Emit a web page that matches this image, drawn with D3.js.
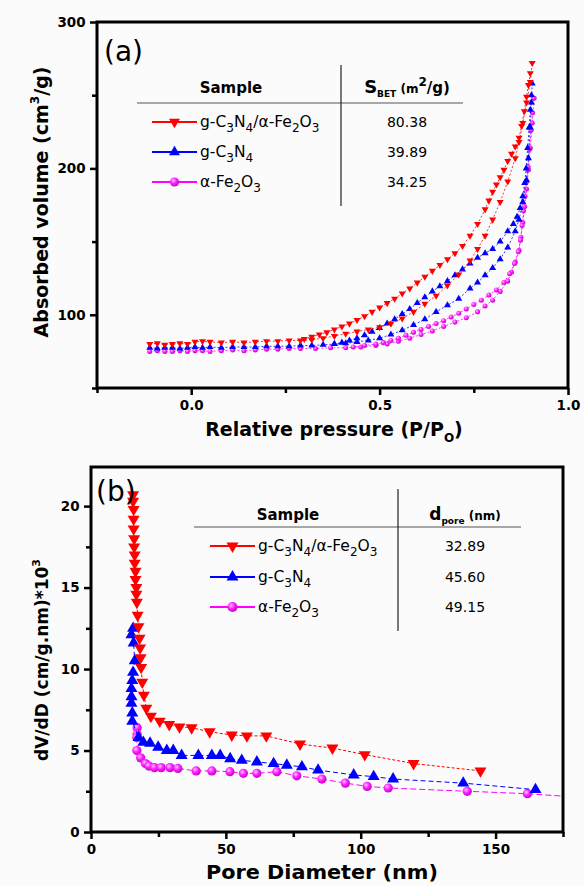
<!DOCTYPE html>
<html>
<head>
<meta charset="utf-8">
<script src="https://cdn.jsdelivr.net/npm/d3@7/dist/d3.min.js"></script>
<style>
  html, body { margin: 0; padding: 0; background: #fbfbfb; }
  svg { display: block; }
  text { font-family: "DejaVu Sans", sans-serif; fill: #000; }
</style>
</head>
<body>
<svg id="fig" width="584" height="886"></svg>
<script>
// ---------- (a) N2 adsorption / desorption isotherms: [P/P0, V] ----------
const redAds = [[-0.11,80],[-0.09,80.5],[-0.07,79.5],[-0.05,80],[-0.03,80.5],[-0.01,80],[0.01,81.5],[0.03,82],[0.05,81.5],[0.08,81],[0.11,81.5],[0.14,81],[0.17,81.5],[0.20,82],[0.23,82],[0.26,82.5],[0.29,82.5],[0.32,83],[0.35,84],[0.38,85.5],[0.41,87],[0.44,88.5],[0.47,90],[0.50,91.5],[0.53,94],[0.56,97.5],[0.59,102],[0.62,107.5],[0.65,113],[0.68,120],[0.71,127.5],[0.74,137],[0.76,145],[0.78,154],[0.80,165],[0.82,177],[0.84,191],[0.86,207],[0.87,218],[0.88,231],[0.89,245],[0.90,259],[0.905,272]];
const redDes = [[0.90,265],[0.895,257],[0.89,249],[0.884,239],[0.877,229],[0.87,221],[0.86,215],[0.85,210],[0.84,205],[0.83,199],[0.82,194],[0.81,189],[0.80,184],[0.79,178],[0.78,172],[0.76,162],[0.74,154],[0.72,147],[0.70,142],[0.68,138],[0.66,134],[0.64,130],[0.62,126],[0.60,122],[0.58,118],[0.56,114.5],[0.54,111],[0.52,108],[0.50,105],[0.48,102],[0.46,99],[0.44,96.5],[0.42,94],[0.40,92],[0.38,90],[0.36,88],[0.34,86.5],[0.32,85],[0.30,83.5]];
const blueAds = [[-0.11,77.5],[-0.09,77],[-0.07,77.5],[-0.05,77.5],[-0.03,77],[-0.01,77.5],[0.01,78],[0.03,77.5],[0.05,78],[0.08,77.5],[0.11,78],[0.14,78],[0.17,78],[0.20,78.5],[0.23,78.5],[0.26,78.5],[0.29,79],[0.32,79],[0.35,79.5],[0.38,80],[0.41,80.5],[0.44,81.5],[0.47,82.5],[0.50,84],[0.53,86.5],[0.56,89.5],[0.59,93],[0.62,97],[0.65,102],[0.68,106.5],[0.71,111],[0.74,118],[0.76,122],[0.78,127],[0.80,132],[0.82,138],[0.84,146],[0.86,157],[0.87,165],[0.88,177],[0.89,192],[0.895,207],[0.90,228],[0.903,245],[0.905,258]];
const blueDes = [[0.903,250],[0.90,240],[0.897,228],[0.893,214],[0.889,200],[0.885,190],[0.88,181],[0.873,173],[0.865,167],[0.855,162],[0.84,157],[0.82,150],[0.80,145],[0.78,142],[0.76,139],[0.74,135],[0.72,131],[0.70,127],[0.68,123],[0.66,119.5],[0.64,116],[0.62,112],[0.60,108],[0.58,104],[0.56,100.5],[0.54,97],[0.52,94],[0.50,91],[0.48,88.5],[0.46,86],[0.44,84],[0.42,82.5],[0.40,81],[0.38,80]];
const magAds = [[-0.11,75],[-0.09,75.5],[-0.07,75],[-0.05,75],[-0.03,75.5],[-0.01,75],[0.01,75.5],[0.03,75.5],[0.05,75],[0.08,75.5],[0.11,76],[0.14,75.5],[0.17,76],[0.20,76.5],[0.23,76.5],[0.26,77],[0.29,77],[0.33,77],[0.37,77.5],[0.41,77.5],[0.45,78],[0.49,79],[0.52,80],[0.55,82],[0.58,84],[0.61,86.5],[0.64,89],[0.67,92],[0.70,95],[0.73,98],[0.76,102],[0.78,106],[0.80,110],[0.82,116],[0.84,123],[0.85,129],[0.86,136],[0.87,144],[0.875,153],[0.88,163],[0.885,174],[0.89,186],[0.895,199],[0.90,214],[0.905,231],[0.91,248]];
const magDes = [[0.906,238],[0.902,226],[0.898,213],[0.894,201],[0.89,191],[0.886,181],[0.882,171],[0.878,161],[0.874,151],[0.868,143],[0.858,135],[0.845,128],[0.83,122],[0.81,117],[0.79,113.5],[0.77,110],[0.75,107],[0.73,104],[0.71,101],[0.69,98.5],[0.67,96],[0.65,94],[0.63,92],[0.61,90],[0.59,88],[0.57,86],[0.55,84],[0.53,82.5],[0.51,81],[0.49,80],[0.46,79],[0.43,78]];

// ---------- (b) pore size distribution: [D (nm), dV/dD x10^3] ----------
const redPore = [[15.6,20.7],[15.6,20.3],[15.8,19.8],[15.8,19.2],[15.8,18.6],[16.0,18.0],[16.0,17.5],[16.2,17.0],[16.2,16.5],[16.5,16.0],[16.5,15.5],[16.8,15.0],[16.8,14.6],[17.0,14.1],[17.3,13.3],[17.6,12.6],[18.0,11.9],[18.2,11.3],[18.4,10.7],[18.6,10.1],[19.0,9.2],[19.6,8.4],[20.5,7.6],[22.2,7.1],[25.5,6.8],[29.0,6.6],[32.8,6.45],[37.3,6.4],[44.0,6.15],[52.2,5.95],[57.8,5.9],[65.0,5.9],[77.5,5.4],[89.5,5.15],[101.5,4.75],[119.6,4.2],[144.4,3.75]];
const bluePore = [[15.6,12.5],[15.0,12.1],[15.8,11.6],[16.2,10.5],[15.6,9.8],[15.3,9.3],[15.0,8.8],[15.0,8.3],[15.0,7.9],[15.3,7.3],[15.3,6.8],[17.6,5.8],[19.4,5.5],[21.9,5.45],[24.9,5.2],[28.1,5.0],[30.5,5.0],[33.6,4.7],[39.8,4.7],[44.8,4.7],[47.9,4.7],[51.6,4.5],[55.9,4.4],[61.5,4.3],[67.7,4.2],[72.6,4.1],[78.2,4.0],[84.2,3.8],[97.4,3.5],[104.8,3.4],[112,3.25],[138,3.0],[164.8,2.6]];
const magPore = [[17.1,6.4],[17.1,6.0],[17.0,5.8],[17.0,5.0],[18.4,4.55],[20.2,4.2],[21.5,4.05],[23.5,3.95],[26.0,3.95],[29.3,3.95],[32.2,3.9],[39.0,3.75],[44.8,3.75],[51.5,3.7],[56.5,3.6],[61.5,3.6],[68.9,3.7],[76.3,3.45],[85.6,3.25],[94.3,3.0],[102.4,2.8],[110.2,2.7],[139.5,2.5],[161.8,2.35]];
const magPoreTail = [[161.8,2.35],[175,2.2]];

// ---------- table contents ----------
const sampleNames = ["g-C3N4/α-Fe2O3", "g-C3N4", "α-Fe2O3"];
const sBET = ["80.38", "39.89", "34.25"];
const dPore = ["32.89", "45.60", "49.15"];
const seriesColors = ["#ff0000", "#0000ff", "#ff00ff"];
const seriesMarkers = ["down", "up", "ball"];

// ---------- tick values ----------
const aXTicks = [0, 0.5, 1.0], aXMinor = [-0.25, 0.25, 0.75];
const aYTicks = [100, 200, 300], aYMinor = [50, 150, 250];
const bXTicks = [0, 50, 100, 150], bXMinor = [25, 75, 125, 175];
const bYTicks = [0, 5, 10, 15, 20], bYMinor = [2.5, 7.5, 12.5, 17.5];

const svg = d3.select("#fig");

// glossy sphere fill for the magenta markers
const defs = svg.append("defs");
const grad = defs.append("radialGradient").attr("id", "ball").attr("cx", "0.38").attr("cy", "0.35").attr("r", "0.7");
grad.append("stop").attr("offset", "0").attr("stop-color", "#ffc8ff");
grad.append("stop").attr("offset", "0.45").attr("stop-color", "#ff22ff");
grad.append("stop").attr("offset", "1").attr("stop-color", "#c000c0");

function marker(g, kind, color, size) {
  if (kind === "ball") {
    return g.append("circle").attr("r", size * 0.42).attr("fill", "url(#ball)");
  }
  const area = Math.sqrt(3) / 4 * size * size;
  return g.append("path")
    .attr("d", d3.symbol(d3.symbolTriangle, area)())
    .attr("fill", color)
    .attr("transform", kind === "down" ? "rotate(180)" : null);
}

function drawFrame(g, x, y, xt, xm, yt, ym, fmtX, fmtY) {
  const [x0, x1] = x.range(), [y0, y1] = y.range();
  const axX = g.append("g").attr("transform", `translate(0,${y0})`)
    .call(d3.axisBottom(x).tickValues(xt).tickSize(7).tickFormat(fmtX));
  g.append("g").attr("transform", `translate(0,${y0})`)
    .call(d3.axisBottom(x).tickValues(xm).tickSize(5).tickFormat(""));
  const axY = g.append("g").attr("transform", `translate(${x0},0)`)
    .call(d3.axisLeft(y).tickValues(yt).tickSize(7).tickFormat(fmtY));
  g.append("g").attr("transform", `translate(${x0},0)`)
    .call(d3.axisLeft(y).tickValues(ym).tickSize(5).tickFormat(""));
  g.selectAll(".domain").remove();
  g.selectAll(".tick line").attr("stroke", "#000").attr("stroke-width", 2.5);
  g.selectAll(".tick text").attr("font-size", 13.5).attr("font-weight", "bold")
    .attr("font-family", "DejaVu Sans, sans-serif").attr("fill", "#000");
  axX.selectAll(".tick text").attr("dy", "0.9em");
  axY.selectAll(".tick text").attr("dx", "-0.1em");
  g.append("rect").attr("x", x0).attr("y", y1).attr("width", x1 - x0).attr("height", y0 - y1)
    .attr("fill", "none").attr("stroke", "#000").attr("stroke-width", 3);
}

function drawSeries(g, x, y, pts, color, kind, size, dash, lw) {
  const line = d3.line().x(d => x(d[0])).y(d => y(d[1]));
  g.append("path").datum(pts).attr("d", line).attr("fill", "none")
    .attr("stroke", color).attr("stroke-width", lw).attr("stroke-dasharray", dash);
  pts.forEach(d => {
    const m = g.append("g").attr("transform", `translate(${x(d[0])},${y(d[1])})`);
    marker(m, kind, color, size);
  });
}

// formula label: digits become subscripts
function formula(t, s, fs) {
  t.attr("font-size", fs);
  let cur = 0;
  s.split(/(\d)/).filter(p => p.length).forEach(p => {
    const sub = /^\d$/.test(p);
    const target = sub ? fs * 0.3 : 0;
    t.append("tspan").attr("font-size", sub ? fs * 0.78 : fs).attr("dy", target - cur).text(p);
    cur = target;
  });
}

function drawTable(g, cfg) {
  g.append("line").attr("x1", cfg.hx0).attr("x2", cfg.hx1).attr("y1", cfg.hy).attr("y2", cfg.hy)
    .attr("stroke", "#555").attr("stroke-width", 1.2);
  g.append("line").attr("x1", cfg.vx).attr("x2", cfg.vx).attr("y1", cfg.vy0).attr("y2", cfg.vy1)
    .attr("stroke", "#222").attr("stroke-width", 1.2);
  g.append("text").attr("x", cfg.sampleX).attr("y", cfg.headY).attr("text-anchor", "middle")
    .attr("font-size", 15).attr("font-weight", "bold").text("Sample");
  const h = g.append("text").attr("x", cfg.valX).attr("y", cfg.headY).attr("text-anchor", "middle")
    .attr("font-size", 15).attr("font-weight", "bold");
  cfg.header(h);
  sampleNames.forEach((name, i) => {
    const yy = cfg.rowY[i];
    g.append("line").attr("x1", cfg.lx0).attr("x2", cfg.lx1).attr("y1", yy).attr("y2", yy)
      .attr("stroke", seriesColors[i]).attr("stroke-width", 2.2);
    const m = g.append("g").attr("transform", `translate(${(cfg.lx0 + cfg.lx1) / 2},${yy})`);
    marker(m, seriesMarkers[i], seriesColors[i], cfg.msize);
    const t = g.append("text").attr("x", cfg.lx1 + 3).attr("y", yy + 5).attr("fill", "#222");
    formula(t, name, 15.5);
    g.append("text").attr("x", cfg.valX).attr("y", yy + 5).attr("text-anchor", "middle")
      .attr("font-size", 14).attr("fill", "#111").text(cfg.values[i]);
  });
}

// ====================== panel (a) ======================
const ga = svg.append("g");
const xa = d3.scaleLinear().domain([-0.25, 1.0]).range([97, 568]);
const ya = d3.scaleLinear().domain([50, 300]).range([388, 22]);
drawFrame(ga, xa, ya, aXTicks, aXMinor, aYTicks, aYMinor, d3.format(".1f"), d3.format("d"));

const isoSeries = [
  [redAds, redDes, 0], [blueAds, blueDes, 1], [magAds, magDes, 2]
];
[2, 1, 0].forEach(k => {
  const [ads, des, i] = isoSeries[k];
  const sz = seriesMarkers[i] === "ball" ? 6 : 7;
  drawSeries(ga, xa, ya, ads, seriesColors[i], seriesMarkers[i], sz, "2,2", 0.8);
  drawSeries(ga, xa, ya, des, seriesColors[i], seriesMarkers[i], sz, "2,2", 0.8);
});

ga.append("text").attr("x", 104).attr("y", 61).attr("font-size", 28).text("(a)");

drawTable(ga, {
  hx0: 137, hx1: 463, hy: 103, vx: 341, vy0: 65, vy1: 206,
  sampleX: 231, headY: 93, valX: 407,
  rowY: [122, 152, 182], lx0: 152, lx1: 197, msize: 11, values: sBET,
  header: h => {
    h.append("tspan").attr("font-size", 18).text("S");
    h.append("tspan").attr("font-size", 9).attr("dy", 4).text("BET");
    h.append("tspan").attr("font-size", 12).attr("dy", -4).text(" (m");
    h.append("tspan").attr("font-size", 12).attr("dy", -7).text("2");
    h.append("tspan").attr("font-size", 15).attr("dy", 7).text("/g)");
  }
});

// axis titles (a)
ga.append("text").attr("transform", "translate(48,202) rotate(-90)").attr("text-anchor", "middle")
  .attr("font-size", 19).attr("font-weight", "bold")
  .call(t => {
    t.append("tspan").text("Absorbed volume (cm");
    t.append("tspan").attr("font-size", 12).attr("dy", -9).text("3");
    t.append("tspan").attr("dy", 9).text("/g)");
  });
ga.append("text").attr("x", 334).attr("y", 436).attr("text-anchor", "middle")
  .attr("font-size", 19).attr("font-weight", "bold")
  .call(t => {
    t.append("tspan").text("Relative pressure (P/P");
    t.append("tspan").attr("font-size", 12).attr("dy", 6).text("O");
    t.append("tspan").attr("dy", -6).text(")");
  });

// ====================== panel (b) ======================
const gb = svg.append("g");
const xb = d3.scaleLinear().domain([0, 175]).range([91, 563]);
const yb = d3.scaleLinear().domain([0, 22.4]).range([832, 467]);
drawFrame(gb, xb, yb, bXTicks, bXMinor, bYTicks, bYMinor, d3.format("d"), d3.format("d"));

const clipB = defs.append("clipPath").attr("id", "clipB");
clipB.append("rect").attr("x", 91).attr("y", 467).attr("width", 472).attr("height", 365);
const gbData = gb.append("g").attr("clip-path", "url(#clipB)");
gbData.append("path").datum(magPoreTail)
  .attr("d", d3.line().x(d => xb(d[0])).y(d => yb(d[1])))
  .attr("fill", "none").attr("stroke", seriesColors[2]).attr("stroke-width", 1).attr("stroke-dasharray", "6,3");
drawSeries(gbData, xb, yb, magPore, seriesColors[2], "ball", 11, "6,3", 1);
drawSeries(gbData, xb, yb, bluePore, seriesColors[1], "up", 12, "5,3", 1);
drawSeries(gbData, xb, yb, redPore, seriesColors[0], "down", 12, "3,2", 1);

gb.append("text").attr("x", 96).attr("y", 501).attr("font-size", 28).text("(b)");

drawTable(gb, {
  hx0: 194, hx1: 521, hy: 527, vx: 398, vy0: 489, vy1: 631,
  sampleX: 288, headY: 520, valX: 465,
  rowY: [546, 577, 607], lx0: 210, lx1: 255, msize: 12, values: dPore,
  header: h => {
    h.append("tspan").attr("font-size", 17).text("d");
    h.append("tspan").attr("font-size", 9).attr("dy", 4).text("pore");
    h.append("tspan").attr("font-size", 12).attr("dy", -4).text(" (nm)");
  }
});

gb.append("text").attr("transform", "translate(48,660) rotate(-90)").attr("text-anchor", "middle")
  .attr("font-size", 17).attr("font-weight", "bold")
  .call(t => {
    t.append("tspan").text("dV/dD (cm/g.nm)*10");
    t.append("tspan").attr("font-size", 11).attr("dy", -8).text("3");
  });
gb.append("text").attr("x", 322).attr("y", 879).attr("text-anchor", "middle")
  .attr("font-size", 20).attr("font-weight", "bold")
  .attr("textLength", 232).attr("lengthAdjust", "spacingAndGlyphs").text("Pore Diameter (nm)");
</script>
</body>
</html>
